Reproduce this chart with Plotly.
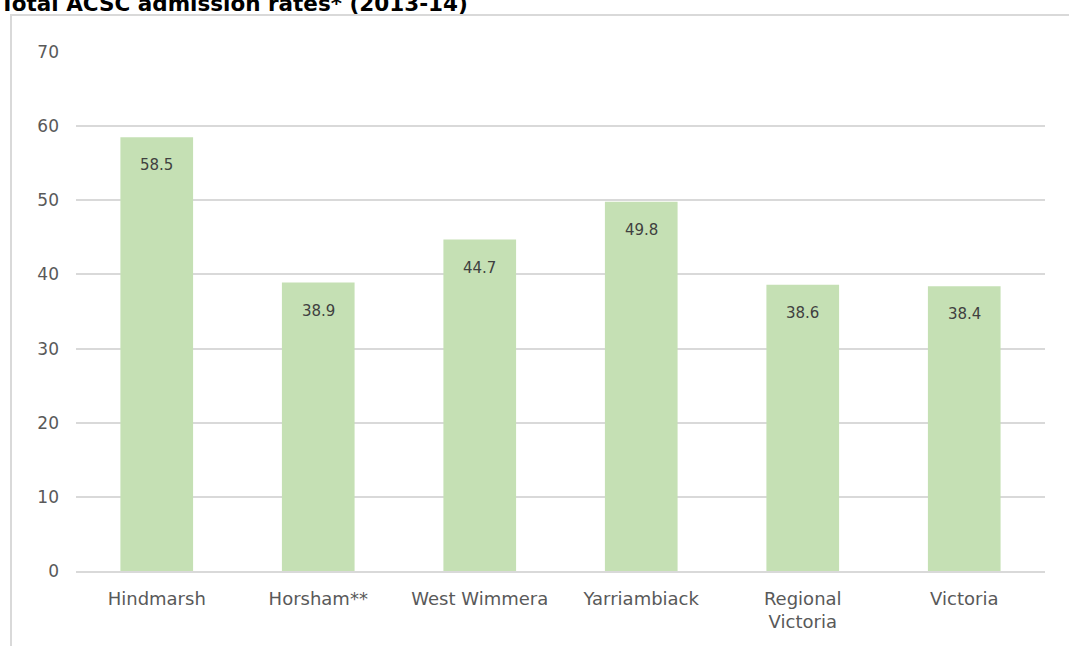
import plotly.graph_objects as go

categories = ["Hindmarsh", "Horsham**", "West Wimmera", "Yarriambiack", "Regional<br>Victoria", "Victoria"]
values = [58.5, 38.9, 44.7, 49.8, 38.6, 38.4]
y_ticks = [0, 10, 20, 30, 40, 50, 60, 70]
title_text = "Total ACSC admission rates* (2013-14)"

W, H = 1069, 646
ml, mr, mt, mb = 76, 24, 52, 75
pw, ph = W - ml - mr, H - mt - mb

FONT = "Century Gothic, DejaVu Sans, sans-serif"


def px_x(px):
    return (px - ml) / pw


def px_y(py):
    return (H - mb - py) / ph


fig = go.Figure()
fig.add_trace(go.Bar(
    x=categories, y=values,
    marker=dict(color="#c5e0b4", line=dict(width=0)),
    width=0.45,
    hoverinfo="x+y",
))

for c, v in zip(categories, values):
    fig.add_annotation(x=c, y=v, text=f"{v:.1f}", showarrow=False,
                       yanchor="middle", yshift=-28,
                       font=dict(family=FONT, size=15, color="#404040"))

# title partially cut off at top (as in the reference)
fig.add_annotation(xref="paper", yref="paper", x=px_x(-2), y=px_y(3),
                   xanchor="left", yanchor="middle", showarrow=False,
                   text=f"<b>{title_text}</b>",
                   font=dict(family=FONT, size=21.5, color="#000000"))

# outer chart frame (left and top border)
fig.add_shape(type="rect", xref="paper", yref="paper",
              x0=px_x(11), x1=px_x(W + 20),
              y0=px_y(H + 20), y1=px_y(15),
              line=dict(color="#d9d9d9", width=2), fillcolor="rgba(0,0,0,0)", layer="below")

fig.update_layout(
    width=W, height=H,
    margin=dict(l=ml, r=mr, t=mt, b=mb, pad=0),
    plot_bgcolor="white", paper_bgcolor="white",
    showlegend=False,
    bargap=0.55,
    font=dict(family=FONT, color="#595959"),
)
fig.update_yaxes(range=[0, 70], tickvals=y_ticks, showgrid=True, gridcolor="#d9d9d9", gridwidth=1.5,
                 zeroline=False, showline=False, ticks="", ticklabelstandoff=16,
                 tickfont=dict(family=FONT, size=17, color="#595959"), fixedrange=True)
fig.update_xaxes(showline=True, linecolor="#d9d9d9", linewidth=2, ticks="",
                 ticklabelstandoff=10,
                 tickfont=dict(family=FONT, size=18, color="#595959"), fixedrange=True)

fig.write_html("out.html", config={"displayModeBar": False},
               post_script="document.body.style.margin='0';document.body.style.overflow='hidden';")
